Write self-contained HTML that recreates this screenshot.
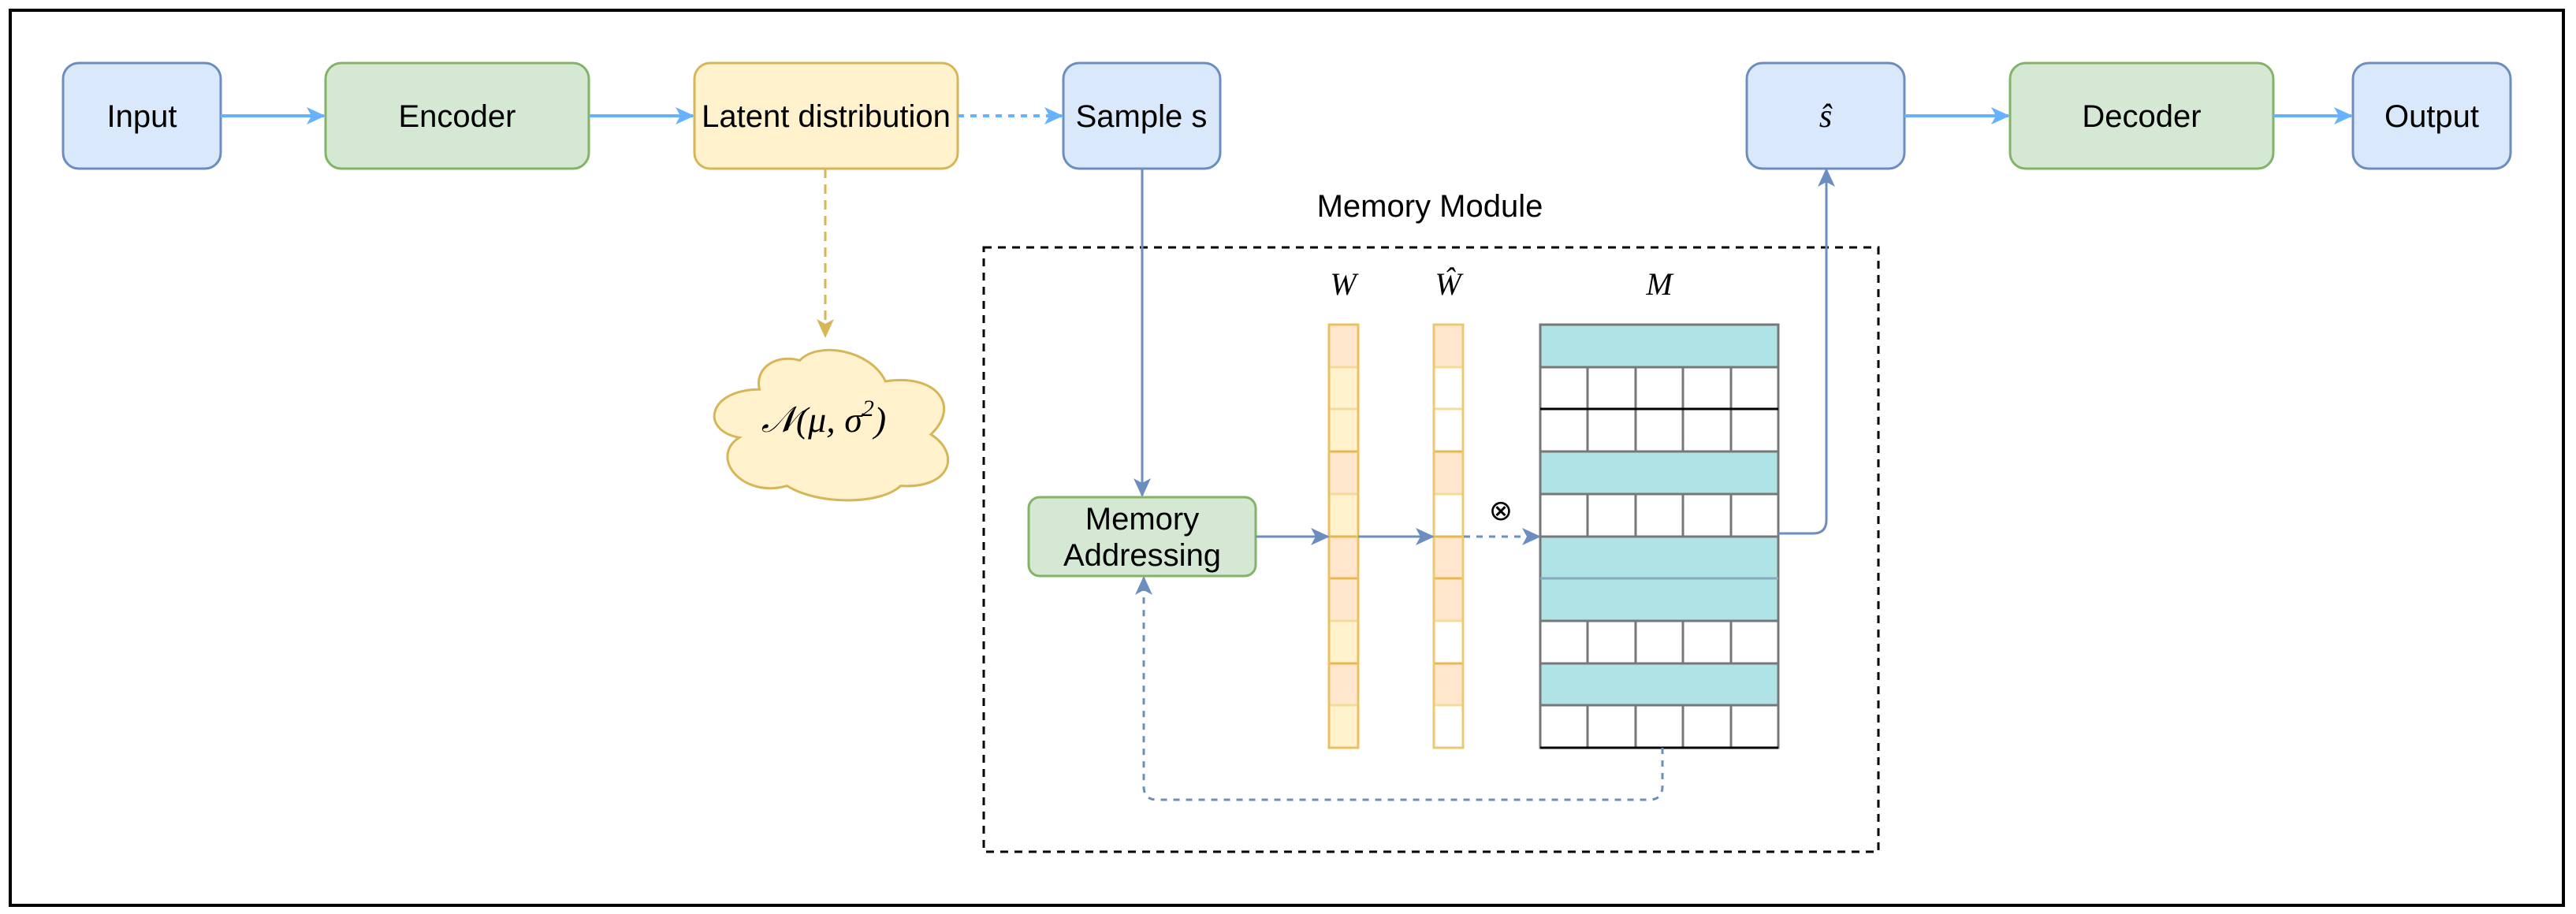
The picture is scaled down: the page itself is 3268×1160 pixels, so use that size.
<!DOCTYPE html>
<html><head><meta charset="utf-8"><style>
html,body{margin:0;padding:0;background:#fff;}
svg{display:block;}
text{font-family:"Liberation Sans",Arial,sans-serif;}
.m{font-family:"Liberation Serif","DejaVu Serif",serif;font-style:italic;}
</style></head><body>
<svg width="3268" height="1160" viewBox="0 0 3268 1160" xmlns="http://www.w3.org/2000/svg">
<defs>
<marker id="ab" markerWidth="24" markerHeight="24" refX="22" refY="12" orient="auto" markerUnits="userSpaceOnUse" viewBox="0 0 24 24">
<path d="M0,1 L24,12 L0,23 L6,12 Z" fill="#66b2ff"/></marker>
<marker id="ad" markerWidth="24" markerHeight="24" refX="22" refY="12" orient="auto" markerUnits="userSpaceOnUse" viewBox="0 0 24 24">
<path d="M0,1 L24,12 L0,23 L6,12 Z" fill="#6c8ebf"/></marker>
<marker id="ay" markerWidth="24" markerHeight="24" refX="22" refY="12" orient="auto" markerUnits="userSpaceOnUse" viewBox="0 0 24 24">
<path d="M0,1 L24,12 L0,23 L6,12 Z" fill="#d6b656"/></marker>
</defs>
<rect x="0" y="0" width="3268" height="1160" fill="#fff"/>
<rect x="13" y="13" width="3239" height="1136" fill="none" stroke="#000" stroke-width="4"/>

<rect x="80" y="80" width="200" height="134" rx="20" fill="#dae8fc" stroke="#6c8ebf" stroke-width="3"/>
<text x="180" y="161" font-size="40" text-anchor="middle">Input</text>
<rect x="413" y="80" width="334" height="134" rx="20" fill="#d5e8d4" stroke="#82b366" stroke-width="3"/>
<text x="580" y="161" font-size="40" text-anchor="middle">Encoder</text>
<rect x="881" y="80" width="334" height="134" rx="20" fill="#fff2cc" stroke="#d6b656" stroke-width="3"/>
<text x="1048" y="161" font-size="40" text-anchor="middle">Latent distribution</text>
<rect x="1349" y="80" width="199" height="134" rx="20" fill="#dae8fc" stroke="#6c8ebf" stroke-width="3"/>
<text x="1448" y="161" font-size="40" text-anchor="middle">Sample s</text>
<rect x="2216" y="80" width="200" height="134" rx="20" fill="#dae8fc" stroke="#6c8ebf" stroke-width="3"/>
<text x="2316" y="161" font-size="42" text-anchor="middle" class="m">ŝ</text>
<rect x="2550" y="80" width="334" height="134" rx="20" fill="#d5e8d4" stroke="#82b366" stroke-width="3"/>
<text x="2717" y="161" font-size="40" text-anchor="middle">Decoder</text>
<rect x="2985" y="80" width="200" height="134" rx="20" fill="#dae8fc" stroke="#6c8ebf" stroke-width="3"/>
<text x="3085" y="161" font-size="40" text-anchor="middle">Output</text>

<g stroke="#66b2ff" stroke-width="4" fill="none">
<line x1="280" y1="147" x2="411" y2="147" marker-end="url(#ab)"/>
<line x1="747" y1="147" x2="879" y2="147" marker-end="url(#ab)"/>
<line x1="1215" y1="147" x2="1347" y2="147" stroke-dasharray="8 8" marker-end="url(#ab)"/>
<line x1="2416" y1="147" x2="2548" y2="147" marker-end="url(#ab)"/>
<line x1="2884" y1="147" x2="2983" y2="147" marker-end="url(#ab)"/>
</g>

<line x1="1047" y1="214" x2="1047" y2="427" stroke="#d6b656" stroke-width="3" stroke-dasharray="12 8" marker-end="url(#ay)"/>
<g transform="translate(893,433) scale(320,204)">
<path d="M0.22,0.3 C0.02,0.3 -0.02,0.55 0.14,0.6 C0.02,0.72 0.15,0.98 0.33,0.9 C0.45,1.02 0.7,1.02 0.78,0.9 C0.98,0.92 1.02,0.7 0.9,0.58 C1.02,0.4 0.92,0.2 0.72,0.25 C0.66,0.05 0.45,0.0 0.38,0.12 C0.3,0.08 0.2,0.15 0.22,0.3 Z" fill="#fff2cc" stroke="#d6b656" stroke-width="3" vector-effect="non-scaling-stroke"/>
</g>
<text x="1045" y="548" font-size="46" text-anchor="middle" class="m">𝒩(μ, σ<tspan font-size="30" dy="-20">2</tspan><tspan dy="20">)</tspan></text>

<text x="1814" y="275" font-size="40" text-anchor="middle">Memory Module</text>
<rect x="1248" y="314" width="1135" height="767" fill="none" stroke="#000" stroke-width="3" stroke-dasharray="10 8"/>

<line x1="1449" y1="214" x2="1449" y2="629" stroke="#6c8ebf" stroke-width="3" marker-end="url(#ad)"/>
<rect x="1305" y="631" width="288" height="100" rx="14" fill="#d5e8d4" stroke="#82b366" stroke-width="3"/>
<text x="1449" y="672" font-size="40" text-anchor="middle">Memory</text>
<text x="1449" y="718" font-size="40" text-anchor="middle">Addressing</text>

<text x="1704" y="374" font-size="40" text-anchor="middle" class="m">W</text>
<text x="1837" y="374" font-size="40" text-anchor="middle" class="m">Ŵ</text>
<text x="2105" y="374" font-size="40" text-anchor="middle" class="m">M</text>

<g stroke-width="3">
<rect x="1686" y="412" width="37" height="54" fill="#ffe6cc" stroke="#e8b850"/>
<rect x="1686" y="466" width="37" height="53" fill="#fff2cc" stroke="#f4dc98"/>
<rect x="1686" y="519" width="37" height="54" fill="#fff2cc" stroke="#f4dc98"/>
<rect x="1686" y="573" width="37" height="54" fill="#ffe6cc" stroke="#e8b850"/>
<rect x="1686" y="627" width="37" height="54" fill="#fff2cc" stroke="#f4dc98"/>
<rect x="1686" y="681" width="37" height="53" fill="#ffe6cc" stroke="#e8b850"/>
<rect x="1686" y="734" width="37" height="54" fill="#ffe6cc" stroke="#e8b850"/>
<rect x="1686" y="788" width="37" height="54" fill="#fff2cc" stroke="#f4dc98"/>
<rect x="1686" y="842" width="37" height="53" fill="#ffe6cc" stroke="#e8b850"/>
<rect x="1686" y="895" width="37" height="54" fill="#fff2cc" stroke="#f4dc98"/>
</g>
<rect x="1686" y="412" width="37" height="537" fill="none" stroke="#ecc060" stroke-width="3"/>
<g stroke-width="3">
<rect x="1819" y="412" width="37" height="54" fill="#ffe6cc" stroke="#e8b850"/>
<rect x="1819" y="466" width="37" height="53" fill="#fff" stroke="#f4dc98"/>
<rect x="1819" y="519" width="37" height="54" fill="#fff" stroke="#f4dc98"/>
<rect x="1819" y="573" width="37" height="54" fill="#ffe6cc" stroke="#e8b850"/>
<rect x="1819" y="627" width="37" height="54" fill="#fff" stroke="#f4dc98"/>
<rect x="1819" y="681" width="37" height="53" fill="#ffe6cc" stroke="#e8b850"/>
<rect x="1819" y="734" width="37" height="54" fill="#ffe6cc" stroke="#e8b850"/>
<rect x="1819" y="788" width="37" height="54" fill="#fff" stroke="#f4dc98"/>
<rect x="1819" y="842" width="37" height="53" fill="#ffe6cc" stroke="#e8b850"/>
<rect x="1819" y="895" width="37" height="54" fill="#fff" stroke="#f4dc98"/>
</g>
<rect x="1819" y="412" width="37" height="537" fill="none" stroke="#ecc870" stroke-width="3"/>

<g stroke="#777" stroke-width="3">
<rect x="1954" y="412" width="302" height="54" fill="#b0e3e6"/>
<rect x="1954" y="466" width="302" height="107" fill="#fff"/>
<rect x="1954" y="573" width="302" height="54" fill="#b0e3e6"/>
<rect x="1954" y="627" width="302" height="54" fill="#fff"/>
<rect x="1954" y="681" width="302" height="107" fill="#b0e3e6"/>
<line x1="1954" y1="734" x2="2256" y2="734" stroke="#8ab"/>
<rect x="1954" y="788" width="302" height="54" fill="#fff"/>
<rect x="1954" y="842" width="302" height="53" fill="#b0e3e6"/>
<rect x="1954" y="895" width="302" height="54" fill="#fff"/>
<path d="M2014,466V573M2075,466V573M2135,466V573M2196,466V573 M2014,627V681M2075,627V681M2135,627V681M2196,627V681 M2014,788V842M2075,788V842M2135,788V842M2196,788V842 M2014,895V949M2075,895V949M2135,895V949M2196,895V949"/>
</g>
<line x1="1954" y1="519" x2="2256" y2="519" stroke="#000" stroke-width="3"/>
<line x1="1954" y1="949" x2="2256" y2="949" stroke="#000" stroke-width="3"/>

<g stroke="#6c8ebf" stroke-width="3" fill="none">
<line x1="1593" y1="681" x2="1685" y2="681" marker-end="url(#ad)"/>
<line x1="1723" y1="681" x2="1818" y2="681" marker-end="url(#ad)"/>
<line x1="1857" y1="681" x2="1953" y2="681" stroke-dasharray="8 8" marker-end="url(#ad)"/>
<path d="M2256,677 H2300 Q2317,677 2317,660 V215" marker-end="url(#ad)"/>
<path d="M2109,949 V998 Q2109,1015 2092,1015 H1468 Q1451,1015 1451,998 V733" stroke-dasharray="8 8" marker-end="url(#ad)"/>
</g>
<text x="1904" y="660" font-size="36" text-anchor="middle" font-family="DejaVu Sans,sans-serif">⊗</text>
</svg>
</body></html>
